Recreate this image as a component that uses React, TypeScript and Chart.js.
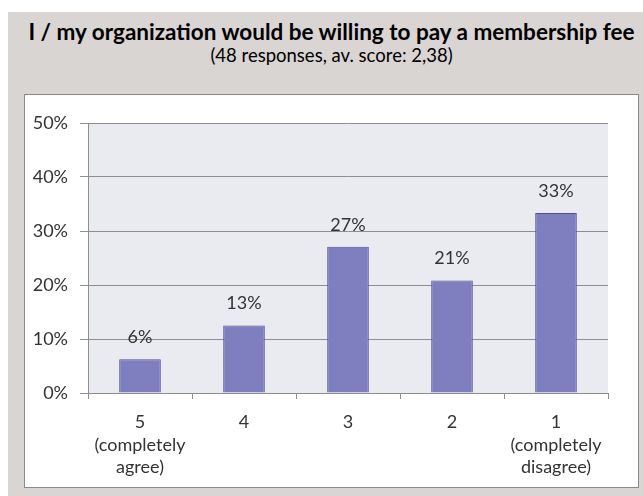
import React, { useEffect, useRef } from "react";
import { Chart, registerables } from "chart.js";

Chart.register(...registerables);

const TITLE = "I / my organization would be willing to pay a membership fee";
const SUBTITLE = "(48 responses, av. score: 2,38)";
const categories: string[][] = [
  ["5", "(completely", "agree)"],
  ["4"],
  ["3"],
  ["2"],
  ["1", "(completely", "disagree)"],
];
const values: number[] = [6.25, 12.5, 27.08, 20.83, 33.33];
const valueLabels: string[] = ["6%", "13%", "27%", "21%", "33%"];
const yTicks: number[] = [0, 10, 20, 30, 40, 50];

const FONT = "Lato, 'Open Sans', sans-serif";
const GRID = "#8e8e8e";
const TEXT = "#333333";

export default function App() {
  const ref = useRef<HTMLCanvasElement | null>(null);

  useEffect(() => {
    if (!ref.current) return;
    const plotBg = {
      id: "plotBg",
      beforeDraw(chart: any) {
        const { ctx, chartArea } = chart;
        ctx.save();
        ctx.fillStyle = "#eaeaf1";
        ctx.fillRect(chartArea.left, chartArea.top, chartArea.right - chartArea.left, chartArea.bottom - chartArea.top);
        ctx.restore();
      },
    };
    const valueLabelPlugin = {
      id: "valueLabels",
      afterDatasetsDraw(chart: any) {
        const { ctx } = chart;
        const meta = chart.getDatasetMeta(0);
        ctx.save();
        ctx.font = `18px ${FONT}`;
        ctx.fillStyle = TEXT;
        ctx.textAlign = "center";
        ctx.textBaseline = "middle";
        meta.data.forEach((bar: any, i: number) => {
          ctx.fillText(valueLabels[i], bar.x, bar.y - 22);
        });
        ctx.restore();
      },
    };
    const chart = new Chart(ref.current, {
      type: "bar",
      data: {
        labels: categories,
        datasets: [
          {
            data: values,
            backgroundColor: "#7f7fc0",
            borderColor: "#50508e",
            borderWidth: 1,
            barPercentage: 0.4,
            categoryPercentage: 1,
          },
        ],
      },
      options: {
        animation: false,
        responsive: false,
        maintainAspectRatio: false,
        layout: { padding: { top: 29, right: 31, left: 0, bottom: 0 } },
        plugins: {
          legend: { display: false },
          tooltip: { enabled: false },
          title: { display: false },
        },
        scales: {
          x: {
            offset: true,
            grid: {
              offset: true,
              drawOnChartArea: false,
              drawTicks: true,
              tickLength: 6,
              color: GRID,
            },
            border: { display: true, color: GRID },
            ticks: {
              padding: 12,
              color: TEXT,
              font: { family: FONT, size: 18, lineHeight: 1.25 },
              maxRotation: 0,
              autoSkip: false,
            },
            afterFit(scale: any) {
              scale.height = 94;
            },
          },
          y: {
            min: 0,
            max: 50,
            afterBuildTicks(scale: any) {
              scale.ticks = yTicks.map((v) => ({ value: v }));
            },
            grid: {
              color: GRID,
              tickLength: 8,
              drawTicks: true,
            },
            border: { display: true, color: GRID },
            ticks: {
              padding: 12,
              color: TEXT,
              font: { family: FONT, size: 18 },
              callback: (v: any) => `${v}%`,
            },
            afterFit(scale: any) {
              scale.width = 64;
            },
          },
        },
      },
      plugins: [plotBg, valueLabelPlugin],
    });
    return () => chart.destroy();
  }, []);

  return (
    <div style={{ position: "absolute", left: 0, top: 0, width: 643, height: 496, background: "#ffffff", overflow: "hidden" }}>
      <div style={{ position: "absolute", left: 8, top: 12, width: 635, height: 484, background: "#d9d5d2" }} />
      <div
        style={{
          position: "absolute",
          left: 24,
          top: 18,
          width: 615,
          textAlign: "center",
          fontFamily: FONT,
          fontWeight: 700,
          fontSize: 22.5,
          color: "#000",
          whiteSpace: "nowrap",
          lineHeight: "28px",
        }}
      >
        {TITLE}
      </div>
      <div
        style={{
          position: "absolute",
          left: 24,
          top: 43,
          width: 615,
          textAlign: "center",
          fontFamily: FONT,
          fontSize: 18.5,
          color: "#000",
          whiteSpace: "nowrap",
          lineHeight: "24px",
        }}
      >
        {SUBTITLE}
      </div>
      <div
        style={{
          position: "absolute",
          left: 24,
          top: 94,
          width: 615,
          height: 394,
          boxSizing: "border-box",
          background: "#ffffff",
          border: "1px solid #8a8a8a",
        }}
      />
      <canvas ref={ref} width={615} height={393} style={{ position: "absolute", left: 24, top: 94, width: 615, height: 393 }} />
    </div>
  );
}
